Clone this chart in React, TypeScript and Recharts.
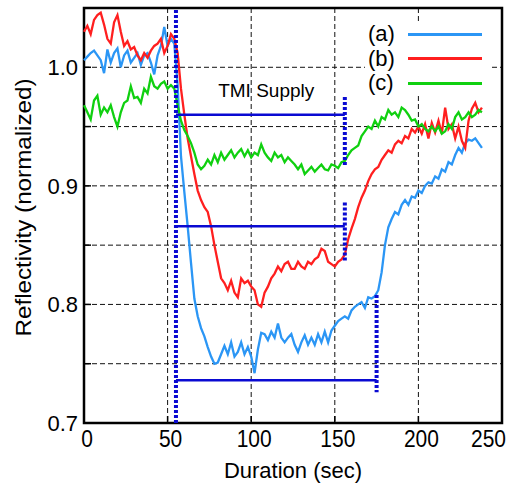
import {
  CartesianGrid, Legend, Line, LineChart, ReferenceArea, ReferenceDot,
  ReferenceLine, XAxis, YAxis,
} from "recharts";

// time axis (sec), sampled every 2 s
const times = [
  0, 2, 4, 6, 8, 10, 12, 14, 16, 18, 20, 22, 24, 26, 28, 30, 32, 34, 36, 38,
  40, 42, 44, 46, 48, 50, 52, 54, 56, 58, 60, 62, 64, 66, 68, 70, 72, 74, 76, 78,
  80, 82, 84, 86, 88, 90, 92, 94, 96, 98, 100, 102, 104, 106, 108, 110, 112, 114, 116, 118,
  120, 122, 124, 126, 128, 130, 132, 134, 136, 138, 140, 142, 144, 146, 148, 150, 152, 154, 156, 158,
  160, 162, 164, 166, 168, 170, 172, 174, 176, 178, 180, 182, 184, 186, 188, 190, 192, 194, 196, 198,
  200, 202, 204, 206, 208, 210, 212, 214, 216, 218, 220, 222, 224, 226, 228, 230, 232, 234, 236, 238,
];

// (a) blue
const seriesA = [
  1.006, 1.009, 1.012, 1.014, 1.010, 1.006, 0.995, 1.015, 1.004, 1.012,
  1.016, 1.000, 1.010, 1.014, 1.004, 1.008, 1.012, 1.002, 1.010, 1.012,
  1.004, 0.994, 1.010, 1.018, 1.034, 1.018, 1.024, 1.020, 0.985, 0.925,
  0.895, 0.866, 0.835, 0.805, 0.790, 0.780, 0.773, 0.764, 0.756, 0.750,
  0.751, 0.758, 0.765, 0.758, 0.768, 0.756, 0.760, 0.768, 0.758, 0.764,
  0.756, 0.742, 0.762, 0.776, 0.775, 0.770, 0.777, 0.772, 0.784, 0.772,
  0.768, 0.772, 0.775, 0.766, 0.760, 0.768, 0.774, 0.766, 0.772, 0.766,
  0.775, 0.768, 0.777, 0.768, 0.778, 0.782, 0.786, 0.788, 0.790, 0.788,
  0.795, 0.798, 0.800, 0.802, 0.797, 0.806, 0.805, 0.807, 0.812, 0.827,
  0.850, 0.865, 0.872, 0.878, 0.876, 0.884, 0.888, 0.884, 0.891, 0.890,
  0.896, 0.894, 0.900, 0.903, 0.902, 0.908, 0.906, 0.914, 0.912, 0.920,
  0.918, 0.926, 0.932, 0.928, 0.936, 0.939, 0.938, 0.940, 0.936, 0.932,
];

// (b) red
const seriesB = [
  1.030, 1.035, 1.028, 1.040, 1.044, 1.046, 1.036, 1.024, 1.020, 1.038,
  1.044, 1.030, 1.018, 1.022, 1.015, 1.017, 1.010, 1.006, 1.012, 1.008,
  1.014, 1.018, 1.020, 1.024, 1.012, 1.018, 1.028, 1.024, 1.012, 0.982,
  0.960, 0.940, 0.925, 0.910, 0.896, 0.888, 0.882, 0.878, 0.866, 0.850,
  0.836, 0.822, 0.818, 0.812, 0.820, 0.810, 0.806, 0.822, 0.818, 0.820,
  0.815, 0.812, 0.800, 0.798, 0.810, 0.815, 0.822, 0.826, 0.832, 0.828,
  0.834, 0.836, 0.830, 0.830, 0.836, 0.832, 0.830, 0.836, 0.834, 0.838,
  0.840, 0.847, 0.845, 0.836, 0.834, 0.832, 0.836, 0.838, 0.842, 0.855,
  0.864, 0.872, 0.882, 0.890, 0.896, 0.904, 0.910, 0.914, 0.916, 0.922,
  0.926, 0.930, 0.928, 0.935, 0.938, 0.936, 0.942, 0.940, 0.948, 0.945,
  0.950, 0.944, 0.952, 0.940, 0.953, 0.945, 0.955, 0.944, 0.966, 0.948,
  0.952, 0.940, 0.950, 0.938, 0.932, 0.955, 0.965, 0.970, 0.962, 0.966,
];

// (c) green
const seriesC = [
  0.968, 0.962, 0.956, 0.972, 0.976, 0.960, 0.966, 0.962, 0.968, 0.958,
  0.950, 0.962, 0.970, 0.972, 0.984, 0.974, 0.975, 0.970, 0.982, 0.978,
  0.992, 0.984, 0.982, 0.986, 0.988, 0.982, 0.985, 0.982, 0.968, 0.955,
  0.947, 0.942, 0.936, 0.928, 0.918, 0.914, 0.917, 0.922, 0.918, 0.926,
  0.920, 0.928, 0.922, 0.926, 0.930, 0.924, 0.928, 0.931, 0.925, 0.930,
  0.924, 0.928, 0.926, 0.935, 0.928, 0.924, 0.921, 0.928, 0.924, 0.926,
  0.920, 0.924, 0.921, 0.918, 0.914, 0.918, 0.910, 0.913, 0.916, 0.912,
  0.915, 0.918, 0.914, 0.913, 0.918, 0.917, 0.915, 0.920, 0.921, 0.926,
  0.930, 0.932, 0.934, 0.942, 0.946, 0.950, 0.948, 0.955, 0.950, 0.958,
  0.956, 0.964, 0.960, 0.962, 0.958, 0.966, 0.964, 0.960, 0.955, 0.956,
  0.950, 0.952, 0.948, 0.946, 0.950, 0.946, 0.950, 0.944, 0.946, 0.952,
  0.948, 0.958, 0.962, 0.956, 0.958, 0.962, 0.958, 0.960, 0.964, 0.962,
];

const xTicks = [0, 50, 100, 150, 200, 250];
const yTicks = [0.7, 0.75, 0.8, 0.85, 0.9, 0.95, 1.0];
const yLabelled = [0.7, 0.8, 0.9, 1.0];
const gridX = [50, 100, 150, 200];
const gridY = [0.75, 0.8, 0.85, 0.9, 0.95, 1.0];

// TMI supply markers: start time, horizontal bars, dotted stop marks
const supplyStart = 55;
const supplyBars = [
  { x1: 55, x2: 156, y: 0.96 },
  { x1: 55, x2: 156, y: 0.866 },
  { x1: 55, x2: 175, y: 0.736 },
];
const supplyStops = [
  { x: 156, y1: 0.975, y2: 0.916 },
  { x: 156, y1: 0.886, y2: 0.837 },
  { x: 175, y1: 0.808, y2: 0.726 },
];

const legendItems = [
  { key: "a", label: "(a)", color: "#2b96f5" },
  { key: "b", label: "(b)", color: "#ff1f1f" },
  { key: "c", label: "(c)", color: "#10d010" },
];

const FONT = "'Liberation Sans', Arial, Helvetica, sans-serif";
const MARK = "#0a0ad2";

function SampleLegend() {
  return (
    <div style={{ background: "#fff", fontFamily: FONT, fontSize: 22, color: "#000", paddingTop: 1 }}>
      {legendItems.map((it) => (
        <div key={it.key} style={{ display: "flex", alignItems: "center", height: 24.5 }}>
          <span style={{ width: 43, paddingLeft: 3, boxSizing: "border-box", lineHeight: "24px" }}>{it.label}</span>
          <span style={{ display: "inline-block", width: 74, height: 3, background: it.color }} />
        </div>
      ))}
    </div>
  );
}

// x tick labels, slightly tall like the original; last one kept inside the frame
function XTick(props: any) {
  const { x, y, payload } = props;
  const last = payload.value === 250;
  return (
    <text
      transform={`translate(${last ? 506 : x + 3},${y}) scale(1,1.1)`}
      textAnchor={last ? "end" : "middle"}
      dy="0.71em"
      fill="#000"
      fontSize={21}
      fontFamily={FONT}
    >
      {payload.value}
    </text>
  );
}

function YTitle(props: any) {
  const vb = props.viewBox || { y: 8, height: 415 };
  const cy = vb.y + vb.height / 2 - 8;
  return (
    <text
      transform={`translate(31,${cy}) rotate(-90) scale(1.1,1)`}
      textAnchor="middle"
      fill="#000"
      fontSize={22}
      fontFamily={FONT}
    >
      Reflectivity (normalized)
    </text>
  );
}

export default function App() {
  const data = times.map((t, i) => ({ t, a: seriesA[i], b: seriesB[i], c: seriesC[i] }));

  return (
    <div style={{ position: "absolute", left: 0, top: 0, width: 515, height: 483, background: "#fff" }}>
      <LineChart
        width={515}
        height={483}
        data={data}
        margin={{ top: 8, right: 13, bottom: 0, left: 0 }}
        style={{ fontFamily: FONT }}
      >
        <CartesianGrid
          stroke="#111"
          strokeDasharray="5 3"
          horizontalValues={gridY}
          verticalValues={gridX}
        />
        <XAxis
          type="number"
          dataKey="t"
          domain={[0, 250]}
          ticks={xTicks}
          height={60}
          axisLine={false}
          tickLine={{ stroke: "#000", strokeWidth: 1.5 }}
          tickSize={-7}
          tickMargin={15}
          tick={<XTick />}
          label={{
            value: "Duration (sec)",
            position: "insideBottom",
            offset: 5,
            fill: "#000",
            fontSize: 22,
            fontFamily: FONT,
          }}
        />
        <XAxis
          xAxisId="top"
          orientation="top"
          type="number"
          dataKey="t"
          domain={[0, 250]}
          ticks={xTicks}
          height={0}
          axisLine={false}
          tickLine={{ stroke: "#000", strokeWidth: 1.5 }}
          tickSize={-7}
          tick={false}
        />
        <YAxis
          type="number"
          domain={[0.7, 1.05]}
          ticks={yTicks}
          width={84}
          axisLine={false}
          tickLine={{ stroke: "#000", strokeWidth: 1.5 }}
          tickSize={-7}
          tickMargin={13}
          tick={{ fill: "#000", fontSize: 22, fontFamily: FONT }}
          tickFormatter={(v) => (yLabelled.includes(v) ? Number(v).toFixed(1) : "")}
          label={<YTitle />}
        />
        <YAxis
          yAxisId="r"
          orientation="right"
          type="number"
          domain={[0.7, 1.05]}
          ticks={yTicks}
          width={0}
          axisLine={false}
          tickLine={{ stroke: "#000", strokeWidth: 1.5 }}
          tickSize={-7}
          tick={false}
        />

        <Legend
          layout="horizontal"
          verticalAlign="middle"
          align="center"
          content={() => <SampleLegend />}
          wrapperStyle={{ top: 21, left: 365, width: 127, height: 76 }}
        />

        <Line dataKey="a" name="(a)" stroke={legendItems[0].color} strokeWidth={2.3} dot={false} isAnimationActive={false} />
        <Line dataKey="b" name="(b)" stroke={legendItems[1].color} strokeWidth={2.3} dot={false} isAnimationActive={false} />
        <Line dataKey="c" name="(c)" stroke={legendItems[2].color} strokeWidth={2.3} dot={false} isAnimationActive={false} />

        <ReferenceLine x={supplyStart} stroke={MARK} strokeWidth={4} strokeDasharray="3 2" />
        {supplyBars.map((b, i) => (
          <ReferenceLine
            key={`bar${i}`}
            segment={[{ x: b.x1, y: b.y }, { x: b.x2, y: b.y }]}
            stroke={MARK}
            strokeWidth={2.5}
          />
        ))}
        {supplyStops.map((s, i) => (
          <ReferenceLine
            key={`stop${i}`}
            segment={[{ x: s.x, y: s.y1 }, { x: s.x, y: s.y2 }]}
            stroke={MARK}
            strokeWidth={4}
            strokeDasharray="3 2"
          />
        ))}

        <ReferenceDot
          x={109}
          y={0.981}
          r={0}
          fill="none"
          stroke="none"
          label={{ value: "TMI Supply", position: "center", fill: "#000", fontSize: 19, fontFamily: FONT }}
        />

        <ReferenceArea x1={0} x2={250} y1={0.7} y2={1.05} fill="none" stroke="#000" strokeWidth={2.5} fillOpacity={0} />
      </LineChart>
    </div>
  );
}
